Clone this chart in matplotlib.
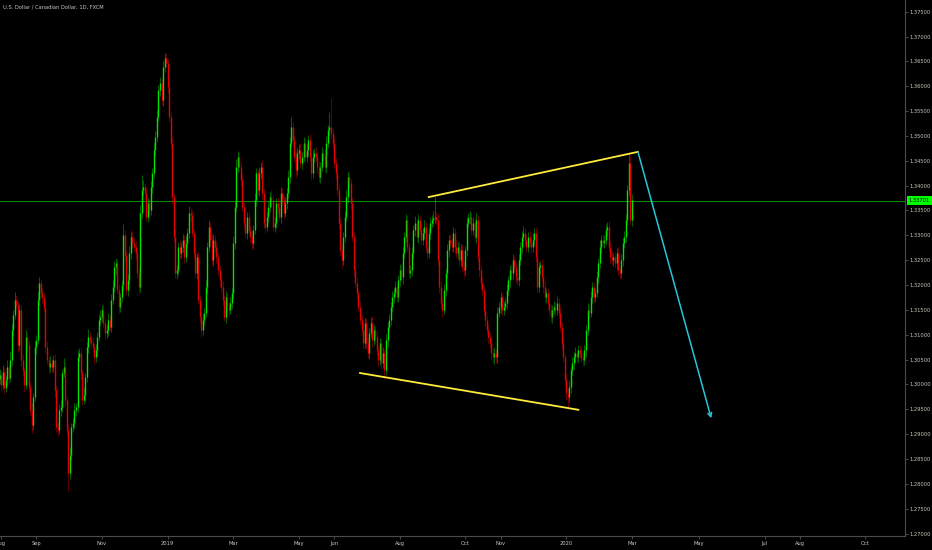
import matplotlib
matplotlib.use("Agg")
import matplotlib.pyplot as plt
import matplotlib.transforms as mtransforms
import numpy as np
import pandas as pd

# daily USD/CAD closes (FXCM), one per business day starting 2018-07-31
start_date = "2018-07-31"
first_open = 1.3010
closes = [
    1.3019, 1.2999, 1.3025, 1.2993, 1.3009, 1.3035, 1.3013, 1.3049, 1.3110, 1.3140,
    1.3170, 1.3160, 1.3079, 1.3150, 1.3049, 1.3029, 1.2999, 1.3095, 1.3079, 1.2995,
    1.2949, 1.2918, 1.2975, 1.3075, 1.3089, 1.3170, 1.3204, 1.3184, 1.3176, 1.3156,
    1.3075, 1.3049, 1.3035, 1.3043, 1.3035, 1.3049, 1.2989, 1.2914, 1.2908, 1.2949,
    1.2955, 1.3023, 1.3035, 1.2969, 1.2908, 1.2822, 1.2858, 1.2914, 1.2922, 1.2949,
    1.2955, 1.3055, 1.3063, 1.3023, 1.2969, 1.2979, 1.3015, 1.3075, 1.3095, 1.3090,
    1.3083, 1.3075, 1.3055, 1.3069, 1.3095, 1.3130, 1.3136, 1.3150, 1.3124, 1.3104,
    1.3110, 1.3130, 1.3116, 1.3170, 1.3196, 1.3236, 1.3244, 1.3190, 1.3156, 1.3176,
    1.3200, 1.3301, 1.3260, 1.3190, 1.3210, 1.3264, 1.3297, 1.3285, 1.3277, 1.3264,
    1.3224, 1.3196, 1.3345, 1.3391, 1.3397, 1.3385, 1.3337, 1.3365, 1.3351, 1.3397,
    1.3425, 1.3472, 1.3498, 1.3538, 1.3592, 1.3606, 1.3572, 1.3639, 1.3657, 1.3647,
    1.3598, 1.3538, 1.3486, 1.3377, 1.3297, 1.3224, 1.3230, 1.3277, 1.3264, 1.3277,
    1.3291, 1.3256, 1.3285, 1.3305, 1.3345, 1.3340, 1.3305, 1.3264, 1.3224, 1.3256,
    1.3170, 1.3136, 1.3110, 1.3130, 1.3144, 1.3196, 1.3277, 1.3317, 1.3291, 1.3250,
    1.3291, 1.3277, 1.3256, 1.3230, 1.3210, 1.3196, 1.3170, 1.3136, 1.3176, 1.3156,
    1.3150, 1.3164, 1.3184, 1.3285, 1.3357, 1.3438, 1.3458, 1.3438, 1.3411, 1.3357,
    1.3325, 1.3305, 1.3337, 1.3311, 1.3297, 1.3285, 1.3311, 1.3371, 1.3425, 1.3391,
    1.3425, 1.3438, 1.3385, 1.3325, 1.3317, 1.3337, 1.3357, 1.3377, 1.3371, 1.3317,
    1.3325, 1.3365, 1.3357, 1.3337, 1.3385, 1.3371, 1.3345, 1.3365, 1.3385, 1.3417,
    1.3486, 1.3518, 1.3492, 1.3458, 1.3431, 1.3465, 1.3472, 1.3445, 1.3458, 1.3486,
    1.3458, 1.3472, 1.3492, 1.3458, 1.3425, 1.3458, 1.3465, 1.3458, 1.3438, 1.3417,
    1.3438, 1.3465, 1.3462, 1.3438, 1.3486, 1.3512, 1.3518, 1.3506, 1.3486, 1.3445,
    1.3425, 1.3391, 1.3325, 1.3270, 1.3250, 1.3297, 1.3337, 1.3377, 1.3417, 1.3405,
    1.3365, 1.3297, 1.3230, 1.3204, 1.3184, 1.3156, 1.3130, 1.3110, 1.3083, 1.3124,
    1.3083, 1.3063, 1.3104, 1.3124, 1.3089, 1.3110, 1.3095, 1.3069, 1.3049, 1.3083,
    1.3043, 1.3063, 1.3029, 1.3089, 1.3116, 1.3130, 1.3156, 1.3176, 1.3184, 1.3196,
    1.3176, 1.3210, 1.3230, 1.3216, 1.3264, 1.3297, 1.3331, 1.3277, 1.3224, 1.3230,
    1.3264, 1.3311, 1.3325, 1.3297, 1.3331, 1.3311, 1.3291, 1.3305, 1.3317, 1.3277,
    1.3264, 1.3305, 1.3325, 1.3331, 1.3335, 1.3337, 1.3331, 1.3250, 1.3196, 1.3164,
    1.3150, 1.3190, 1.3224, 1.3270, 1.3291, 1.3285, 1.3277, 1.3305, 1.3277, 1.3264,
    1.3277, 1.3250, 1.3270, 1.3236, 1.3230, 1.3270, 1.3325, 1.3335, 1.3337, 1.3311,
    1.3325, 1.3297, 1.3331, 1.3256, 1.3230, 1.3204, 1.3190, 1.3150, 1.3130, 1.3110,
    1.3095, 1.3083, 1.3063, 1.3055, 1.3063, 1.3055, 1.3144, 1.3156, 1.3176, 1.3150,
    1.3156, 1.3164, 1.3190, 1.3210, 1.3230, 1.3224, 1.3250, 1.3236, 1.3216, 1.3210,
    1.3250, 1.3277, 1.3297, 1.3305, 1.3291, 1.3277, 1.3297, 1.3285, 1.3277, 1.3291,
    1.3305, 1.3256, 1.3196, 1.3236, 1.3240, 1.3216, 1.3196, 1.3176, 1.3184, 1.3164,
    1.3150, 1.3136, 1.3150, 1.3156, 1.3150, 1.3164, 1.3144, 1.3116, 1.3083, 1.3055,
    1.3009, 1.2983, 1.2975, 1.2995, 1.3029, 1.3043, 1.3055, 1.3063, 1.3055, 1.3069,
    1.3063, 1.3055, 1.3049, 1.3069, 1.3110, 1.3150, 1.3144, 1.3176, 1.3196, 1.3176,
    1.3184, 1.3216, 1.3244, 1.3277, 1.3291, 1.3285, 1.3291, 1.3311, 1.3317, 1.3277,
    1.3256, 1.3250, 1.3256, 1.3244, 1.3264, 1.3230, 1.3224, 1.3250, 1.3285, 1.3297,
    1.3331, 1.3391, 1.3445, 1.3330, 1.3371,
]

# wick lengths above / below the candle body, in pips
upper_wick_pips = [
    12, 8, 15, 10, 9, 14, 7, 18, 11, 9, 16, 10, 8, 13, 9, 12, 7, 15, 10, 11,
    9, 14, 8, 12, 10, 17, 13, 9, 11, 8, 10, 12, 9, 15, 8, 11, 13, 7, 10, 12,
    14, 9, 18, 10, 8, 12, 16, 9, 11, 13, 8, 15, 10, 12, 9, 14, 8, 11, 16, 10,
    9, 12, 8, 13, 10, 11, 14, 9, 12, 8, 10, 13, 9, 11, 15, 12, 10, 8, 13, 9,
    11, 22, 10, 9, 12, 14, 10, 13, 9, 11, 8, 12, 16, 30, 14, 9, 12, 10, 8, 13,
    11, 14, 12, 15, 10, 13, 11, 12, 10, 9, 8, 11, 10, 12, 9, 13, 11, 10, 14, 9,
    12, 10, 13, 9, 14, 11, 10, 8, 12, 9, 11, 10, 8, 12, 9, 14, 10, 13, 9, 11,
    12, 9, 10, 8, 11, 9, 13, 10, 12, 8, 9, 11, 10, 14, 12, 16, 11, 10, 9, 12,
    10, 13, 9, 11, 8, 12, 10, 14, 11, 9, 12, 10, 13, 8, 11, 9, 12, 10, 14, 9,
    11, 10, 12, 9, 13, 10, 8, 12, 11, 14, 12, 20, 10, 9, 12, 10, 11, 13, 9, 12,
    10, 12, 9, 11, 8, 13, 10, 12, 9, 11, 10, 13, 9, 12, 14, 11, 30, 58, 9, 12,
    11, 9, 13, 10, 12, 9, 11, 14, 10, 12, 9, 11, 10, 8, 12, 9, 11, 10, 13, 9,
    10, 12, 9, 11, 13, 10, 8, 12, 9, 11, 10, 13, 9, 12, 10, 11, 9, 12, 10, 13,
    9, 11, 12, 10, 13, 9, 12, 10, 8, 11, 12, 9, 13, 10, 11, 9, 12, 10, 13, 9,
    11, 10, 12, 9, 13, 40, 10, 12, 9, 11, 10, 12, 9, 13, 10, 11, 9, 12, 10, 13,
    9, 11, 12, 10, 13, 9, 12, 10, 11, 9, 12, 10, 13, 9, 11, 10, 12, 9, 11, 10,
    12, 9, 11, 10, 13, 9, 12, 10, 11, 9, 12, 10, 13, 9, 11, 10, 12, 9, 11, 10,
    12, 9, 11, 13, 10, 12, 9, 11, 10, 13, 9, 12, 10, 11, 9, 12, 10, 13, 9, 11,
    10, 12, 9, 11, 10, 13, 9, 12, 10, 11, 9, 12, 10, 11, 9, 12, 10, 13, 9, 11,
    10, 12, 9, 11, 10, 13, 9, 12, 10, 11, 9, 12, 10, 13, 9, 11, 10, 12, 9, 11,
    10, 12, 9, 11, 10, 13, 9, 12, 10, 11, 12, 10, 21, 15, 12,
]
lower_wick_pips = [
    10, 13, 9, 12, 8, 11, 14, 9, 10, 12, 8, 11, 13, 9, 12, 10, 14, 8, 11, 9,
    12, 15, 10, 9, 13, 8, 11, 10, 12, 9, 11, 8, 13, 10, 12, 9, 14, 10, 11, 8,
    12, 10, 9, 13, 11, 37, 12, 10, 9, 11, 13, 10, 8, 12, 11, 9, 13, 10, 12, 9,
    11, 10, 13, 9, 12, 8, 10, 11, 9, 13, 10, 12, 9, 11, 8, 10, 13, 9, 12, 10,
    11, 9, 13, 10, 12, 8, 11, 10, 9, 12, 10, 13, 9, 11, 10, 12, 8, 11, 9, 10,
    12, 9, 11, 10, 8, 12, 9, 11, 10, 9, 12, 10, 11, 13, 10, 9, 12, 10, 11, 9,
    10, 12, 9, 11, 10, 13, 9, 12, 10, 11, 9, 12, 14, 10, 11, 9, 12, 10, 13, 9,
    11, 10, 12, 9, 13, 10, 11, 9, 12, 10, 11, 9, 12, 10, 13, 9, 11, 10, 12, 9,
    11, 10, 12, 9, 13, 14, 11, 9, 12, 10, 11, 9, 12, 10, 13, 9, 11, 10, 12, 9,
    11, 10, 12, 9, 13, 10, 11, 9, 12, 10, 11, 9, 12, 10, 13, 9, 11, 10, 12, 9,
    11, 10, 12, 9, 13, 10, 11, 9, 12, 10, 11, 9, 12, 10, 13, 9, 11, 10, 12, 9,
    11, 10, 12, 9, 16, 10, 11, 9, 12, 10, 11, 9, 12, 10, 13, 9, 11, 10, 12, 9,
    11, 10, 12, 9, 13, 10, 11, 9, 12, 10, 11, 9, 18, 10, 13, 9, 11, 10, 12, 9,
    11, 10, 12, 9, 13, 10, 11, 9, 12, 10, 11, 9, 12, 10, 13, 9, 11, 10, 12, 9,
    11, 10, 12, 9, 13, 10, 11, 9, 12, 10, 14, 9, 12, 10, 13, 9, 11, 10, 12, 9,
    11, 10, 12, 9, 13, 10, 11, 9, 12, 10, 11, 9, 12, 10, 13, 9, 11, 10, 12, 9,
    11, 10, 12, 9, 13, 12, 11, 9, 12, 10, 11, 9, 12, 10, 13, 9, 11, 10, 12, 9,
    11, 10, 12, 9, 13, 10, 11, 9, 12, 10, 11, 9, 12, 10, 13, 9, 11, 10, 12, 9,
    11, 10, 12, 9, 13, 10, 11, 9, 12, 10, 11, 14, 23, 10, 13, 9, 11, 10, 12, 9,
    11, 10, 12, 9, 13, 10, 11, 9, 12, 10, 11, 9, 12, 10, 13, 9, 11, 10, 12, 9,
    11, 10, 12, 9, 13, 10, 11, 9, 12, 10, 11, 9, 12, 10, 11,
]
last_price = 1.33701

tick_months = ["2018-08", "2018-09", "2018-11", "2019-01", "2019-03", "2019-05",
               "2019-06", "2019-08", "2019-10", "2019-11", "2020-01", "2020-03",
               "2020-05", "2020-07", "2020-08", "2020-10"]
tick_labels = ["Aug", "Sep", "Nov", "2019", "Mar", "May", "Jun", "Aug", "Oct",
               "Nov", "2020", "Mar", "May", "Jul", "Aug", "Oct"]

# drawing tools: (dates, prices)
top_line_dates = ["2019-08-28", "2020-03-06"]
top_line_prices = [1.3377, 1.3468]
bottom_line_dates = ["2019-06-26", "2020-01-13"]
bottom_line_prices = [1.3023, 1.2949]
arrow_dates = ["2020-03-06", "2020-05-13"]
arrow_prices = [1.3468, 1.2932]

# bar index axis like TradingView (no gaps for weekends)
days = pd.bdate_range(start_date, "2020-12-31")


def pos(d):
    return int(days.searchsorted(pd.Timestamp(d)))


closes = np.array(closes)
opens = np.concatenate([[first_open], closes[:-1]])
highs = np.maximum(opens, closes) + np.array(upper_wick_pips) * 1e-4
lows = np.minimum(opens, closes) - np.array(lower_wick_pips) * 1e-4
x = np.arange(len(closes))
up = closes >= opens

green = "#00e600"
red = "#e60000"

fig = plt.figure(figsize=(9.32, 5.5), dpi=100, facecolor="black")
ax = fig.add_axes([0, 14 / 550, 905 / 932, 536 / 550], facecolor="black")

# wicks (dim) then bodies
ax.vlines(x[up], lows[up], highs[up], color=green, lw=0.6, alpha=0.5)
ax.vlines(x[~up], lows[~up], highs[~up], color=red, lw=0.6, alpha=0.5)
ax.vlines(x[up], opens[up], closes[up], color=green, lw=1.0)
ax.vlines(x[~up], opens[~up], closes[~up], color=red, lw=1.0)

# last price line
ax.axhline(last_price, color="#0a8a0a", lw=0.8, zorder=1)

# channel lines and target arrow
ax.plot([pos(d) for d in top_line_dates], top_line_prices, color="#ffeb3b", lw=1.3)
ax.plot([pos(d) for d in bottom_line_dates], bottom_line_prices, color="#ffeb3b", lw=1.3)
ax.annotate("", xy=(pos(arrow_dates[1]), arrow_prices[1]),
            xytext=(pos(arrow_dates[0]), arrow_prices[0]),
            arrowprops=dict(arrowstyle="->", color="#26c6da", lw=1.1,
                            mutation_scale=7, shrinkA=0, shrinkB=0))

ax.set_xlim(0.23, 592.9)
ax.set_ylim(1.26951, 1.37735)

ax.set_xticks([pos(m + "-01") for m in tick_months])
ax.set_xticklabels(tick_labels)
ax.set_yticks(np.arange(1.270, 1.37501, 0.005))
ax.yaxis.set_major_formatter(matplotlib.ticker.FormatStrFormatter("%.5f"))
ax.yaxis.tick_right()
ax.tick_params(axis="both", length=2, width=0.5, color="#666666",
               labelsize=3.7, labelcolor="#c9c9bd", pad=1.5)

for side in ["top", "left"]:
    ax.spines[side].set_visible(False)
for side in ["bottom", "right"]:
    ax.spines[side].set_color("#4a4a4a")
    ax.spines[side].set_linewidth(0.8)

# current price tag on the scale
trans = mtransforms.blended_transform_factory(ax.transAxes, ax.transData)
ax.text(1.004, last_price, "1.33701", transform=trans, ha="left", va="center",
        fontsize=3.7, color="black", clip_on=False,
        bbox=dict(boxstyle="square,pad=0.35", facecolor="#00ff00", edgecolor="none"))

fig.text(3 / 932, 1 - 7 / 550, "U.S. Dollar / Canadian Dollar, 1D, FXCM",
         fontsize=3.7, color="#c8c8c8", va="center", ha="left")

fig.savefig("out.png", dpi=100, facecolor="black")
